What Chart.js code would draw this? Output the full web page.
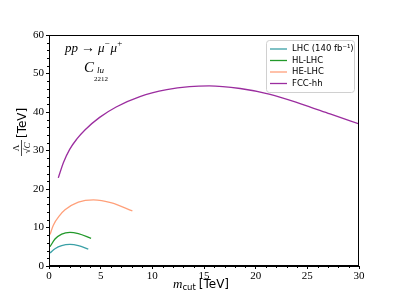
<!DOCTYPE html>
<html>
<head>
<meta charset="utf-8">
<script src="https://cdn.jsdelivr.net/npm/chart.js@4"></script>
<style>
  html, body { margin:0; padding:0; background:#fff; }
  #wrap { width:399px; height:299px; }
</style>
</head>
<body>
<div id="wrap"><canvas id="c" width="399" height="299"></canvas></div>
<script>
// values (m_cut in TeV, Lambda/sqrt(C) in TeV)
const lhcX = [0.1, 0.58, 1.23, 2.03, 2.84, 3.8];
const lhcY = [3.4, 4.5, 5.3, 5.6, 5.3, 4.4];
const hlX  = [0.1, 0.58, 1.23, 2.03, 2.84, 4.07];
const hlY  = [5.0, 7.0, 8.3, 8.75, 8.4, 7.2];
const heX  = [0.1, 0.42, 1.06, 1.55, 2.84, 4.3, 6.07, 8.07];
const heY  = [8.2, 10.6, 13.2, 14.6, 16.6, 17.2, 16.4, 14.3];
const fccX = [0.9, 1.4, 2.0, 2.7, 3.5, 4.9, 6.5, 8.8, 11.4, 13.6, 15.5, 18.5, 21.4, 24.3, 27.2, 30];
const fccY = [22.9, 26.9, 30.3, 33.0, 35.4, 38.6, 41.3, 44.0, 45.8, 46.6, 46.8, 46.1, 44.6, 42.2, 39.5, 36.9];

const labels = ["LHC (140 fb⁻¹)", "HL-LHC", "HE-LHC", "FCC-hh"];
const colors = ["#3aa0a6", "#22992a", "#ffa07a", "#9b2d9f"];

const xTicks = [0, 5, 10, 15, 20, 25, 30];
const yTicks = [0, 10, 20, 30, 40, 50, 60];

const pts = (xs, ys) => xs.map((x, i) => ({x, y: ys[i]}));
const series = [pts(lhcX, lhcY), pts(hlX, hlY), pts(heX, heY), pts(fccX, fccY)];

const SERIF = "'Liberation Serif', 'DejaVu Serif', serif";
const SANS = "'DejaVu Sans', sans-serif";

// draw pieces of text one after another: [text, font, dy, gapAfter]
function runs(ctx, x, y, parts){
  parts.forEach(([t, f, dy, gap]) => {
    ctx.font = f;
    ctx.fillText(t, x, y + (dy || 0));
    x += ctx.measureText(t).width + (gap || 0);
  });
}

const extras = {
  id: "extras",
  afterDraw(chart){
    const ctx = chart.ctx;
    const a = chart.chartArea;
    const xs = chart.scales.x, ys = chart.scales.y;
    ctx.save();
    // frame
    ctx.strokeStyle = "#000";
    ctx.lineWidth = 1;
    ctx.strokeRect(a.left + 0.5, a.top + 0.5, a.right - a.left - 1, a.bottom - a.top - 1);
    // minor ticks
    ctx.beginPath();
    for(let v = 1; v < 30; v++){
      if(v % 5 === 0) continue;
      const p = Math.round(xs.getPixelForValue(v)) + 0.5;
      ctx.moveTo(p, a.bottom); ctx.lineTo(p, a.bottom + 2);
    }
    for(let v = 2; v < 60; v += 2){
      if(v % 10 === 0) continue;
      const p = Math.round(ys.getPixelForValue(v)) + 0.5;
      ctx.moveTo(a.left, p); ctx.lineTo(a.left - 2, p);
    }
    ctx.stroke();

    // annotations
    ctx.fillStyle = "#000";
    ctx.textBaseline = "alphabetic";
    ctx.textAlign = "left";
    runs(ctx, 65, 52, [
      ["pp", "italic 13px " + SERIF, 0, 3],
      ["→", "14px " + SERIF, 0, 3],
      ["μ", "italic 13px " + SERIF, 0, 0],
      ["−", "9px " + SERIF, -6, 1],
      ["μ", "italic 13px " + SERIF, 0, 0],
      ["+", "9px " + SERIF, -6, 0]
    ]);
    ctx.font = "italic 15px " + SERIF;
    ctx.fillText("C", 84, 72);
    ctx.font = "italic 9px " + SERIF;
    ctx.fillText("lu", 97, 73);
    ctx.font = "7px " + SERIF;
    ctx.fillText("2212", 94, 81);

    // x axis title
    runs(ctx, 173, 288, [
      ["m", "italic 13px " + SERIF, 0, 0],
      ["cut", "8.5px " + SANS, 2, 3],
      ["[TeV]", "12px " + SANS, 0, 0]
    ]);

    // y axis title (rotated)
    ctx.translate(21, 152);
    ctx.rotate(-Math.PI / 2);
    ctx.font = "12px " + SANS;
    ctx.textAlign = "left";
    ctx.fillText("[TeV]", 14, 5);
    ctx.textAlign = "center";
    ctx.font = "9px " + SERIF;
    ctx.fillText("Λ", 4, -2);
    ctx.beginPath();
    ctx.moveTo(-4, 0.5); ctx.lineTo(12, 0.5); ctx.lineWidth = 0.7; ctx.stroke();
    ctx.font = "italic 9px " + SERIF;
    ctx.fillText("√C", 4, 9);
    ctx.restore();

    // legend
    ctx.save();
    const lx = 266.5, ly = 40.5, lw = 88, lh = 52;
    ctx.fillStyle = "rgba(255,255,255,0.85)";
    ctx.strokeStyle = "#d0d0d0";
    ctx.lineWidth = 1;
    ctx.beginPath();
    ctx.roundRect(lx, ly, lw, lh, 3);
    ctx.fill(); ctx.stroke();
    ctx.font = "8.5px " + SANS;
    ctx.textBaseline = "middle";
    ctx.fillStyle = "#000";
    labels.forEach((lab, i) => {
      const yy = 49 + i * 11.5;
      ctx.strokeStyle = colors[i];
      ctx.lineWidth = 1.3;
      ctx.beginPath(); ctx.moveTo(270, yy); ctx.lineTo(287, yy); ctx.stroke();
      ctx.fillText(lab, 292, yy);
    });
    ctx.restore();
  }
};

new Chart(document.getElementById("c"), {
  type: "scatter",
  data: {
    datasets: series.map((d, i) => ({
      label: labels[i],
      data: d,
      showLine: true,
      borderColor: colors[i],
      borderWidth: 1.3,
      pointRadius: 0,
      cubicInterpolationMode: "monotone",
      fill: false
    }))
  },
  options: {
    responsive: false,
    animation: false,
    layout: { padding: { top: 35, right: 40, left: 0, bottom: 0 } },
    plugins: { legend: { display: false }, tooltip: { enabled: false } },
    scales: {
      x: {
        type: "linear", min: 0, max: 30,
        afterFit: (s) => { s.height = 33; },
        afterBuildTicks: (s) => { s.ticks = xTicks.map(v => ({value: v})); },
        ticks: { color: "#000", font: { family: SERIF, size: 11 }, padding: 1, maxRotation: 0 },
        grid: { drawOnChartArea: false, drawTicks: true, tickLength: 3, color: "#000" },
        border: { display: true, color: "#000" }
      },
      y: {
        type: "linear", min: 0, max: 60,
        afterFit: (s) => { s.width = 49; },
        afterBuildTicks: (s) => { s.ticks = yTicks.map(v => ({value: v})); },
        ticks: { color: "#000", font: { family: SERIF, size: 11 }, padding: 2 },
        grid: { drawOnChartArea: false, drawTicks: true, tickLength: 3, color: "#000" },
        border: { display: true, color: "#000" }
      }
    }
  },
  plugins: [extras]
});
</script>
</body>
</html>
